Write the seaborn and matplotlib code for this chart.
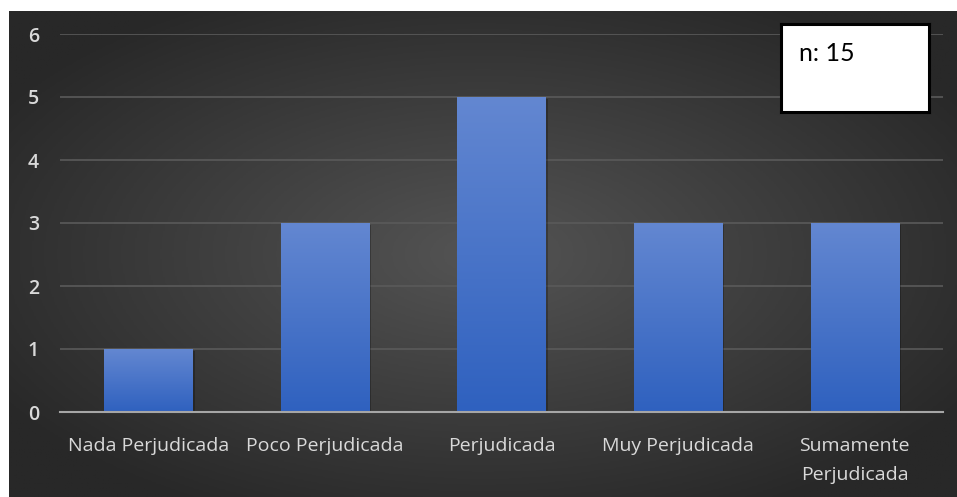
import numpy as np
import pandas as pd
import matplotlib
matplotlib.use("Agg")
import matplotlib.pyplot as plt
from matplotlib.colors import LinearSegmentedColormap
import seaborn as sns

categories = ["Nada Perjudicada", "Poco Perjudicada", "Perjudicada",
              "Muy Perjudicada", "Sumamente\nPerjudicada"]
values = [1, 3, 5, 3, 3]
y_ticks = [0, 1, 2, 3, 4, 5, 6]
note_text = "n: 15"

sns.set_theme(style="dark")
plt.rcParams['font.family'] = ['Open Sans', 'DejaVu Sans']

W, H = 957, 497
fig = plt.figure(figsize=(W / 100, H / 100), dpi=100, facecolor="white")

# radial gradient background
bg = fig.add_axes([9 / W, 0, 1 - 9 / W, (H - 11) / H])
bg.set_axis_off()
yy, xx = np.mgrid[-1:1:300j, -1:1:600j]
r = np.sqrt(xx ** 2 + yy ** 2)
r = np.clip(r / 1.2, 0, 1)
bg_cmap = LinearSegmentedColormap.from_list("bg", ["#545454", "#282828"])
bg.imshow(r, cmap=bg_cmap, aspect="auto", extent=[0, 1, 0, 1], vmin=0, vmax=1)
bg.set_xlim(0, 1); bg.set_ylim(0, 1)

ax = fig.add_axes([60 / W, (H - 412) / H, (943 - 60) / W, (412 - 34) / H])
ax.patch.set_alpha(0)
df = pd.DataFrame({"cat": categories, "val": values})
sns.barplot(data=df, x="cat", y="val", ax=ax, width=0.5, color="#4472c4",
            edgecolor="none", zorder=3)

bar_cmap = LinearSegmentedColormap.from_list("bar", ["#2f61bf", "#6387d1"])
grad = np.linspace(0, 1, 256).reshape(-1, 1)
for p in ax.patches:
    x0, y0 = p.get_x(), p.get_y()
    w, h = p.get_width(), p.get_height()
    ax.add_patch(plt.Rectangle((x0 + 0.012, y0), w, h - 0.03, facecolor="black",
                               alpha=0.25, zorder=2, edgecolor="none"))
    ax.imshow(grad, cmap=bar_cmap, aspect="auto", origin="lower",
              extent=[x0, x0 + w, y0, y0 + h], zorder=4)
    p.set_visible(False)

ax.set_xlim(-0.5, 4.5)
ax.set_ylim(0, 6)
ax.set_yticks(y_ticks)
ax.set_yticklabels([str(t) for t in y_ticks])
ax.grid(axis="y", color="#5a5a5a", linewidth=1.2, zorder=1)
ax.grid(axis="x", visible=False)
for s in ["top", "right", "left"]:
    ax.spines[s].set_visible(False)
ax.spines["bottom"].set_color("#a6a6a6")
ax.spines["bottom"].set_linewidth(1.5)
ax.spines["bottom"].set_zorder(5)
ax.set_xlabel("")
ax.set_ylabel("")
ax.tick_params(axis="both", length=0, colors="#d9d9d9")
ax.tick_params(axis="y", pad=15, labelsize=14)
ax.tick_params(axis="x", pad=18)
ax.set_xticks(range(len(categories)))
ax.set_xticklabels(categories, color="#d9d9d9", fontsize=14, linespacing=1.75)
for lab in ax.get_yticklabels():
    lab.set_color("#d9d9d9")
    lab.set_fontweight("semibold")

# n box
box = fig.add_axes([781 / W, (H - 112) / H, (929 - 781) / W, (112 - 24) / H])
box.set_xticks([]); box.set_yticks([])
box.set_facecolor("white")
for s in box.spines.values():
    s.set_color("black"); s.set_linewidth(2.2); s.set_visible(True)
box.text(0.12, 0.67, note_text, transform=box.transAxes, fontsize=18,
         color="black", va="center", ha="left", family=["Lato", "DejaVu Sans"])

fig.savefig("out.png", dpi=100, facecolor="white")
